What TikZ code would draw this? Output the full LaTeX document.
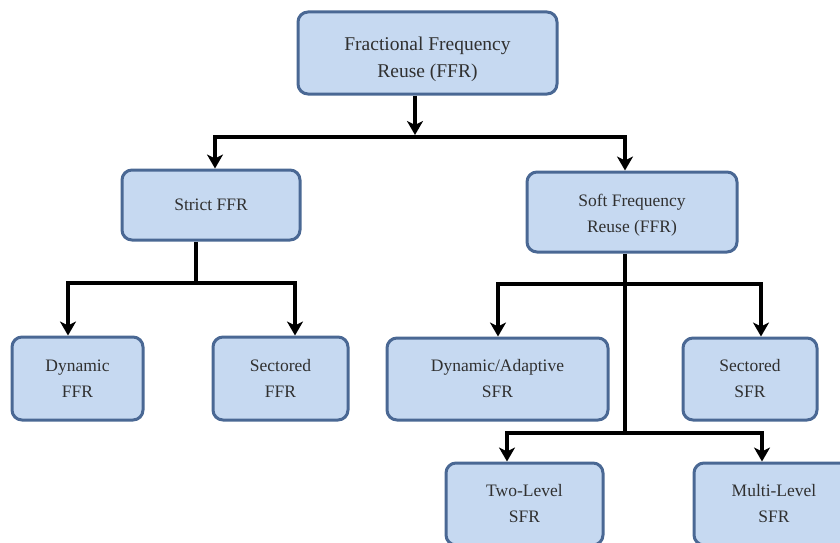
\documentclass[tikz,border=0pt]{standalone}
\usepackage{fontspec}
\setmainfont{Liberation Serif}
\usetikzlibrary{arrows.meta,calc}
\definecolor{boxfill}{HTML}{C6D9F1}
\definecolor{boxdraw}{HTML}{4A6894}
\definecolor{txt}{HTML}{303030}
\tikzset{
  box/.style={draw=boxdraw, fill=boxfill, line width=3pt, rounded corners=10pt,
    align=center, text=txt, font=\fontsize{17.5}{26}\selectfont, inner sep=0pt},
  boxtext/.style={align=center, text=txt, font=\fontsize{17.5}{26}\selectfont, inner sep=0pt},
  conn/.style={line width=4pt, black},
  arr/.style={conn, -{Stealth[length=14pt,width=16pt,inset=4pt]}}
}
\begin{document}
\begin{tikzpicture}[x=1pt,y=-1pt]
\useasboundingbox (0,0) rectangle (840,543);
\clip (0,0) rectangle (840,543);
% boxes
\node[box, minimum width=259, minimum height=82,
  label={[boxtext, font=\fontsize{19.5}{27}\selectfont, yshift=-6pt]center:Fractional Frequency\\Reuse (FFR)}] (ffr) at (427.5,53) {};
\node[box, minimum width=178, minimum height=70] (strict) at (211,205) {Strict FFR};
\node[box, minimum width=210, minimum height=80,
  label={[boxtext, yshift=-3pt]center:Soft Frequency\\Reuse (FFR)}] (soft) at (632,212) {};
\node[box, minimum width=131, minimum height=83] (dynffr) at (77.5,378.5) {Dynamic\\FFR};
\node[box, minimum width=135, minimum height=83] (secffr) at (280.5,378.5) {Sectored\\FFR};
\node[box, minimum width=221, minimum height=82] (dynsfr) at (497.5,379) {Dynamic/Adaptive\\SFR};
\node[box, minimum width=134, minimum height=82] (secsfr) at (750,379) {Sectored\\SFR};
\node[box, minimum width=157, minimum height=82] (twol) at (524.5,504) {Two-Level\\SFR};
\node[box, minimum width=160, minimum height=82] (multil) at (774,504) {Multi-Level\\SFR};
% junction points
\coordinate (j1) at (415,137);
\coordinate (j2) at (196,283);
\coordinate (j3) at (625,284);
\coordinate (j4) at (625,433);
% top level
\draw[arr] (ffr.south -| j1) -- ([yshift=2pt]j1);
\draw[arr] (j1) -| ($(strict.north)+(4,0)$);
\draw[arr] (j1) -| ($(soft.north)+(-7,0)$);
% strict FFR
\draw[conn] (strict.south -| j2) -- (j2);
\draw[arr] (j2) -| ($(dynffr.north)+(-9.5,0)$);
\draw[arr] (j2) -| ($(secffr.north)+(14.5,0)$);
% soft FR
\draw[conn] (soft.south -| j3) -- (j4);
\draw[arr] (j3) -| ($(dynsfr.north)+(0.5,0)$);
\draw[arr] (j3) -| ($(secsfr.north)+(11,0)$);
\draw[arr] (j4) -| ($(twol.north)+(-17.5,0)$);
\draw[arr] (j4) -| ($(multil.north)+(-12,0)$);
\end{tikzpicture}
\end{document}
